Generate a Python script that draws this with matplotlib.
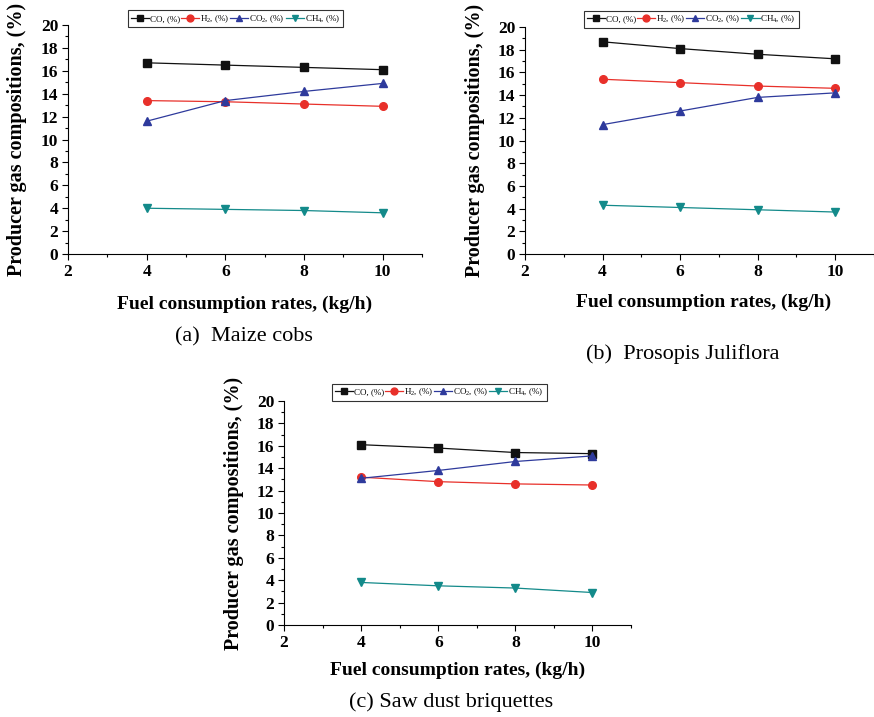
#!/usr/bin/env python3

import matplotlib
matplotlib.use("Agg")
import matplotlib.pyplot as plt
from matplotlib.ticker import MultipleLocator

# Fuel consumption rates (kg/h)
rates = [4, 6, 8, 10]

# (a) Maize cobs
maize_co = [16.7, 16.5, 16.3, 16.1]
maize_h2 = [13.4, 13.3, 13.1, 12.9]
maize_co2 = [11.6, 13.4, 14.2, 14.9]
maize_ch4 = [4.0, 3.9, 3.8, 3.6]

# (b) Prosopis Juliflora
pros_co = [18.7, 18.1, 17.6, 17.2]
pros_h2 = [15.4, 15.1, 14.8, 14.6]
pros_co2 = [11.4, 12.6, 13.8, 14.2]
pros_ch4 = [4.3, 4.1, 3.9, 3.7]

# (c) Saw dust briquettes
saw_co = [16.1, 15.8, 15.4, 15.3]
saw_h2 = [13.2, 12.8, 12.6, 12.5]
saw_co2 = [13.1, 13.8, 14.6, 15.1]
saw_ch4 = [3.8, 3.5, 3.3, 2.9]

series_labels = ["CO, (%)", "H$_2$, (%)", "CO$_2$, (%)", "CH$_4$, (%)"]
captions = ["(a)  Maize cobs", "(b)  Prosopis Juliflora", "(c) Saw dust briquettes"]

plt.rcParams["font.family"] = ["Liberation Serif", "DejaVu Serif"]
plt.rcParams["mathtext.fontset"] = "custom"
plt.rcParams["mathtext.rm"] = "Liberation Serif"
plt.rcParams["mathtext.it"] = "Liberation Serif:italic"
plt.rcParams["mathtext.bf"] = "Liberation Serif:bold"

colors = ["#111111", "#e8302a", "#2e3a9c", "#138a8a"]
markers = ["s", "o", "^", "v"]

fig = plt.figure(figsize=(8.74, 7.17), dpi=100)

# panel placements: axes rect, legend anchor, xlabel pos, ylabel x, caption pos
panels = [
    ([0.0778, 0.6457, 0.405, 0.3194], (0.17, 0.99), (0.5, -0.18), -0.117, (0.497, -0.36),
     [maize_co, maize_h2, maize_co2, maize_ch4]),
    ([0.6007, 0.6457, 0.3993, 0.3166], (0.169, 0.995), (0.513, -0.175), -0.114, (0.453, -0.44),
     [pros_co, pros_h2, pros_co2, pros_ch4]),
    ([0.325, 0.1283, 0.397, 0.3124], (0.138, 1.0), (0.5, -0.165), -0.115, (0.48, -0.345),
     [saw_co, saw_h2, saw_co2, saw_ch4]),
]

for i, (rect, leg_xy, xl_xy, yl_x, cap_xy, data) in enumerate(panels):
    ax = fig.add_axes(rect)
    for vals, lab, c, m in zip(data, series_labels, colors, markers):
        ax.plot(rates, vals, color=c, marker=m, markersize=5.5, linewidth=0.9, label=lab)

    ax.set_xlim(2, 11)
    ax.set_ylim(0, 20)
    ax.xaxis.set_major_locator(MultipleLocator(2))
    ax.xaxis.set_minor_locator(MultipleLocator(1))
    ax.yaxis.set_major_locator(MultipleLocator(2))
    ax.yaxis.set_minor_locator(MultipleLocator(1))
    ax.set_xticks([2, 4, 6, 8, 10])
    ax.spines["top"].set_visible(False)
    ax.spines["right"].set_visible(False)
    ax.tick_params(which="major", direction="out", length=4, width=0.8,
                   labelsize=12.5, pad=3)
    ax.tick_params(which="minor", direction="out", length=2.5, width=0.8)
    for t in ax.get_xticklabels() + ax.get_yticklabels():
        t.set_fontweight("bold")

    ax.set_ylabel("Producer gas compositions, (%)", fontsize=14.5, fontweight="bold")
    ax.yaxis.set_label_coords(yl_x, 0.5)
    ax.set_xlabel("Fuel consumption rates, (kg/h)", fontsize=14, fontweight="bold")
    ax.xaxis.set_label_coords(*xl_xy)

    leg = ax.legend(loc="lower left", bbox_to_anchor=leg_xy, ncol=4, fontsize=6.5,
                    frameon=True, fancybox=False, edgecolor="black",
                    handlelength=2.0, handletextpad=0.1, columnspacing=0.1,
                    borderpad=0.3, borderaxespad=0, markerscale=0.9)
    leg.get_frame().set_linewidth(0.8)

    ax.text(cap_xy[0], cap_xy[1], captions[i], transform=ax.transAxes,
            ha="center", va="center", fontsize=16)

plt.savefig("out.png", dpi=100)
